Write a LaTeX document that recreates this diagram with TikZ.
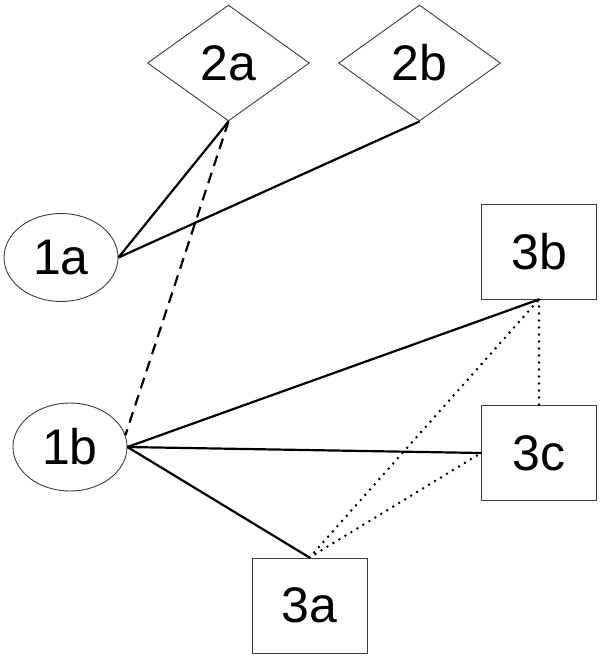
\documentclass[tikz,border=0pt]{standalone}
\usepackage{fontspec}
\setmainfont{Liberation Sans}
\usetikzlibrary{shapes.geometric}
\definecolor{edgegray}{RGB}{60,60,60}

\begin{document}
\begin{tikzpicture}[
  x=1pt, y=1pt,
  every node/.style={font=\fontsize{50}{56}\selectfont, inner sep=0pt},
  goal/.style={draw=edgegray, line width=0.9pt, ellipse,
               minimum width=114pt, minimum height=88pt},
  choice/.style={draw=edgegray, line width=0.9pt, diamond, aspect=1.4,
                 minimum width=162pt, minimum height=116pt},
  item/.style={draw=edgegray, line width=0.9pt, rectangle,
               minimum width=115pt, minimum height=95pt},
  link/.style={line width=2.2pt},
  dashlink/.style={line width=2.2pt, dash pattern=on 11pt off 7pt},
  dotlink/.style={line width=2.8pt, dash pattern=on 0pt off 7pt, line cap=round}
]
  \useasboundingbox (0,0) rectangle (600,-658);

  \node[choice] (2a) at (228.5,-63) {2a};
  \node[choice] (2b) at (419.5,-63) {2b};
  \node[goal]   (1a) at (61,-257.5) {1a};
  \node[goal]   (1b) at (70,-447)   {1b};
  \node[item]   (3b) at (539,-251.5) {3b};
  \node[item]   (3c) at (539,-453)   {3c};
  \node[item]   (3a) at (309.5,-605.5) {3a};

  % solid links
  \draw[link] (1a.east) -- (2a.south);
  \draw[link] (1a.east) -- (2b.south);
  \draw[link] (1b.east) -- (3b.south);
  \draw[link] (1b.east) -- (3c.west);
  \draw[link] (1b.east) -- (3a.north);

  % dashed and dotted links
  \draw[dashlink] (2a.south) -- (1b.12);
  \draw[dotlink] (3b.south) -- (3c.north);
  \draw[dotlink] (3a.north) -- (3b.south);
  \draw[dotlink] (3a.north) -- (3c.west);
\end{tikzpicture}
\end{document}
